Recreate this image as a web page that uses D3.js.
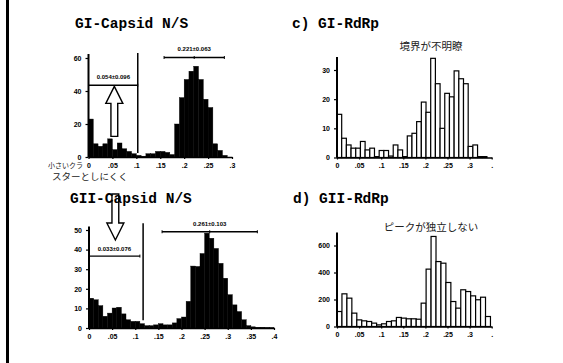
<!DOCTYPE html>
<html>
<head>
<meta charset="utf-8">
<script src="https://cdn.jsdelivr.net/npm/d3@7"></script>
<style>
  body { margin: 0; background: #fff; }
</style>
</head>
<body>
<svg id="chart" width="563" height="363"></svg>
<script>
// --- data (counts per bin) ---
const giCapsid = [23, 8, 6.5, 8, 11, 4.5, 8.5, 5, 3.4, 2, 1, 0.5, 2, 2, 3.4, 3.4, 2.8, 1.5,
                  20, 36, 47, 52, 55, 47, 35, 30, 8, 4, 1, 0];
const giRdRp = [14.8, 6.6, 4.3, 3.2, 3.2, 5.5, 2.6, 3.2, 0.3, 2.4, 2.4, 0.5, 4.3, 2.6, 0.3, 7.4,
                8.3, 12.3, 19, 15.5, 34, 25.3, 10, 22, 20.8, 29.7, 27, 25.3, 3.8, 4.3, 0.3, 0.3];
const giiCapsid = [15.2, 14.4, 11.4, 6.0, 7.6, 10.2, 10.6, 7.2, 4.2, 3.4, 3.4, 2.2, 1.2, 1.2, 1.6,
                   2.2, 1.6, 1.6, 2.6, 4.8, 5.6, 13.6, 31.6, 31.4, 38, 48.4, 45.8, 40.6, 33, 25.4,
                   17, 11.8, 8.4, 4.2, 1.2, 0.6, 0.4, 0.4, 0.3, 0.2];
const giiRdRp = [111, 242, 210, 99, 49, 42, 37, 25, 12, 20, 37, 42, 67, 62, 57, 57, 54, 173,
                 425, 667, 481, 469, 326, 185, 136, 272, 259, 227, 198, 217, 74];

const xTicksA = [0, 0.05, 0.1, 0.15, 0.2, 0.25, 0.3];
const xLabelsA = ["0", ".05", ".1", ".15", ".2", ".25", ".3"];
const xTicksC = [0, 0.05, 0.1, 0.15, 0.2, 0.25, 0.3, 0.35, 0.4];
const xLabelsC = ["0", ".05", ".1", ".15", ".2", ".25", ".3", ".35", ".4"];
const xTicksRdRp = [0, 0.05, 0.1, 0.15, 0.2, 0.25, 0.3, 0.35];
const xLabelsRdRp = ["0", ".05", ".1", ".15", ".2", ".25", ".3", "."];

const yTicksA = [0, 20, 40, 60];
const yTicksB = [0, 10, 20, 30];
const yTicksC = [0, 10, 20, 30, 40, 50];
const yTicksD = [0, 200, 400, 600];

// mean ± sd annotations
const giPeak = [0.221, 0.063];
const giLow = [0.054, 0.096];
const giiPeak = [0.261, 0.103];
const giiLow = [0.033, 0.076];

const svg = d3.select('#chart');
svg.append('rect').attr('width', 563).attr('height', 363).attr('fill', '#fff');

// page edge of the scan
svg.append('line').attr('x1', 7.5).attr('x2', 7.5).attr('y1', 0).attr('y2', 363)
  .attr('stroke', '#000').attr('stroke-width', 3);

function drawPanel(cfg) {
  const x = d3.scaleLinear().domain(cfg.xDomain).range(cfg.xRange);
  const y = d3.scaleLinear().domain(cfg.yDomain).range(cfg.yRange);
  const g = svg.append('g');

  g.selectAll('rect.bar')
    .data(cfg.values)
    .enter()
    .append('rect')
    .attr('class', 'bar')
    .attr('x', (d, i) => x(i * cfg.binWidth))
    .attr('width', x(cfg.binWidth) - x(0))
    .attr('y', d => y(d))
    .attr('height', d => y(0) - y(d))
    .attr('fill', cfg.filled ? '#000' : '#fff')
    .attr('stroke', '#000')
    .attr('stroke-width', cfg.filled ? 0.4 : 1.2);

  const xa = g.append('g')
    .attr('transform', `translate(0,${y(0)})`)
    .call(d3.axisBottom(x).tickValues(cfg.xTicks)
      .tickFormat((d, i) => cfg.xLabels[i]).tickSize(2).tickSizeOuter(0).tickPadding(4));
  xa.select('.domain').attr('stroke-width', 1.6);
  xa.selectAll('line').attr('stroke-width', 1.2);

  const ya = g.append('g')
    .attr('transform', `translate(${cfg.xRange[0]},0)`)
    .call(d3.axisLeft(y).tickValues(cfg.yTicks).tickSize(3).tickSizeOuter(0).tickPadding(4));
  ya.select('.domain').remove();
  ya.selectAll('line').attr('stroke-width', 1.2);
  g.append('line')
    .attr('x1', cfg.xRange[0]).attr('x2', cfg.xRange[0])
    .attr('y1', y(0)).attr('y2', cfg.yTop)
    .attr('stroke', '#000').attr('stroke-width', 2);

  g.selectAll('.tick text')
    .attr('font-family', 'Liberation Sans, Arial, sans-serif')
    .attr('font-weight', 'bold')
    .attr('font-size', 7)
    .attr('fill', '#000');

  return { x, y, g };
}

function title(text, x, y) {
  svg.append('text').attr('x', x).attr('y', y).text(text)
    .attr('font-family', 'Liberation Mono, DejaVu Sans Mono, monospace')
    .attr('font-weight', 'bold').attr('font-size', 14.5).attr('fill', '#000');
}

function note(text, x, y, size, anchor) {
  svg.append('text').attr('x', x).attr('y', y).text(text)
    .attr('text-anchor', anchor || 'start')
    .attr('font-family', 'Noto Sans CJK JP, sans-serif')
    .attr('font-size', size).attr('fill', '#222');
}

function smallLabel(text, x, y) {
  svg.append('text').attr('x', x).attr('y', y).text(text)
    .attr('text-anchor', 'middle')
    .attr('font-family', 'Liberation Sans, Arial, sans-serif')
    .attr('font-weight', 'bold').attr('font-size', 6).attr('fill', '#000');
}

function bracket(x0, x1, y, xc) {
  svg.append('line').attr('x1', x0).attr('x2', x1).attr('y1', y).attr('y2', y)
    .attr('stroke', '#000').attr('stroke-width', 1.3);
  [x0, x1].concat(xc !== undefined ? [xc] : []).forEach(v => {
    svg.append('line').attr('x1', v).attr('x2', v).attr('y1', y - 1.5).attr('y2', y + 1.5)
      .attr('stroke', '#000').attr('stroke-width', 1);
  });
}

function arrow(cx, yBase, yTip, fill) {
  const dir = yTip < yBase ? -1 : 1;
  const headLen = 17, hw = 8.5, sw = 3.4;
  const yHead = yTip - dir * headLen;
  const pts = [[cx - sw, yBase], [cx - sw, yHead], [cx - hw, yHead], [cx, yTip],
               [cx + hw, yHead], [cx + sw, yHead], [cx + sw, yBase]];
  svg.append('path').attr('d', d3.line()(pts) + 'Z')
    .attr('fill', fill).attr('stroke', '#000').attr('stroke-width', 1.4);
}

// ---- a) GI-Capsid N/S ----
title('GI-Capsid N/S', 75, 28);
const pa = drawPanel({
  values: giCapsid, binWidth: 0.01, filled: true,
  xDomain: [0, 0.3], xRange: [88.5, 232], yDomain: [0, 60], yRange: [157, 58], yTop: 54,
  xTicks: xTicksA, xLabels: xLabelsA, yTicks: yTicksA
});
svg.append('line').attr('x1', pa.x(0.103)).attr('x2', pa.x(0.103))
  .attr('y1', pa.y(63)).attr('y2', pa.y(2.5)).attr('stroke', '#000').attr('stroke-width', 1.5);
bracket(pa.x(0), pa.x(0.103), pa.y(43.5));
smallLabel('0.054±0.096', pa.x(0.052), pa.y(47));
bracket(pa.x(giPeak[0] - giPeak[1]), pa.x(giPeak[0] + giPeak[1]), pa.y(60.3), pa.x(giPeak[0]));
smallLabel('0.221±0.063', pa.x(giPeak[0]), pa.y(64.5));
arrow(pa.x(giLow[0]), pa.y(12.5), pa.y(42.8), '#fff');
note('小さいクラ', 48, 168, 7);
note('スターとしにくく', 52, 180, 9.5);

// ---- c) GI-RdRp ----
title('c) GI-RdRp', 292, 28);
const pb = drawPanel({
  values: giRdRp, binWidth: 0.0106, filled: false,
  xDomain: [0, 0.35], xRange: [337, 491.7], yDomain: [0, 30], yRange: [157.5, 70], yTop: 57,
  xTicks: xTicksRdRp, xLabels: xLabelsRdRp, yTicks: yTicksB
});
note('境界が不明瞭', 431, 50, 10.5, 'middle');

// ---- GII-Capsid N/S ----
title('GII-Capsid N/S', 70, 203);
const pc = drawPanel({
  values: giiCapsid, binWidth: 0.01, filled: true,
  xDomain: [0, 0.4], xRange: [89, 274], yDomain: [0, 50], yRange: [328, 230], yTop: 226.5,
  xTicks: xTicksC, xLabels: xLabelsC, yTicks: yTicksC
});
svg.append('line').attr('x1', pc.x(0.117)).attr('x2', pc.x(0.117))
  .attr('y1', pc.y(53.5)).attr('y2', pc.y(4)).attr('stroke', '#000').attr('stroke-width', 1.5);
bracket(pc.x(0), pc.x(0.11), pc.y(36.7));
smallLabel('0.033±0.076', pc.x(0.055), pc.y(39.5));
bracket(pc.x(giiPeak[0] - giiPeak[1]), pc.x(giiPeak[0] + giiPeak[1]), pc.y(49.1), pc.x(giiPeak[0]));
smallLabel('0.261±0.103', pc.x(giiPeak[0]), pc.y(52));
arrow(pc.x(giiLow[0] + 0.024), 194, 240, 'none');

// ---- d) GII-RdRp ----
title('d) GII-RdRp', 293, 203);
drawPanel({
  values: giiRdRp, binWidth: 0.0112, filled: false,
  xDomain: [0, 0.35], xRange: [337, 491.7], yDomain: [0, 600], yRange: [326.5, 245.5], yTop: 232.5,
  xTicks: xTicksRdRp, xLabels: xLabelsRdRp, yTicks: yTicksD
});
note('ピークが独立しない', 431, 231, 10.5, 'middle');
</script>
</body>
</html>
